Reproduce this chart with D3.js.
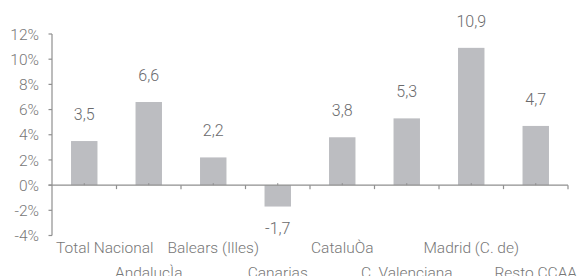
<!DOCTYPE html>
<html><head><meta charset="utf-8">
<script src="https://cdn.jsdelivr.net/npm/d3@7"></script>
<style>html,body{margin:0;padding:0;background:#fff;}svg{display:block;}</style>
</head><body>
<svg id="c" width="586" height="276"></svg>
<script>
const categories = ["Total Nacional","AndalucÌa","Balears (Illes)","Canarias","CataluÒa","C. Valenciana","Madrid (C. de)","Resto CCAA"];
const values = [3.5, 6.6, 2.2, -1.7, 3.8, 5.3, 10.9, 4.7];
const valueLabels = ["3,5","6,6","2,2","-1,7","3,8","5,3","10,9","4,7"];
const yTicks = [-4,-2,0,2,4,6,8,10,12];
const yTickLabels = ["-4%","-2%","0%","2%","4%","6%","8%","10%","12%"];

const svg = d3.select("#c");
const font = "Roboto, 'Liberation Sans', Arial, sans-serif";
const axisColor = "#8f8f8f";
const textColor = "#777777";
const barColor = "#bcbdc1";

const x = d3.scaleBand().domain(categories).range([52, 568]).paddingInner(0.59).paddingOuter(0.295);
const y = d3.scaleLinear().domain([-4, 12]).range([235.5, 34]);

// bars
svg.selectAll("rect.bar").data(values).join("rect")
  .attr("x", (d,i) => x(categories[i]))
  .attr("width", x.bandwidth())
  .attr("y", d => y(Math.max(0,d)))
  .attr("height", d => Math.abs(y(d) - y(0)))
  .attr("fill", barColor);

// y axis
const yAxis = svg.append("g");
yAxis.append("line").attr("x1",52).attr("x2",52).attr("y1",y(12)).attr("y2",y(-4))
  .attr("stroke",axisColor).attr("stroke-width",1.2);
yAxis.selectAll("line.t").data(yTicks).join("line").attr("class","t")
  .attr("x1",48.5).attr("x2",52).attr("y1",d=>y(d)).attr("y2",d=>y(d))
  .attr("stroke",axisColor).attr("stroke-width",1.2);
yAxis.selectAll("text").data(yTicks).join("text")
  .attr("x",39).attr("y",d=>y(d)).attr("dy","0.36em")
  .attr("text-anchor","end").attr("font-family",font).attr("font-weight",300).attr("font-size",15.5)
  .attr("fill",textColor).text((d,i)=>yTickLabels[i]);

// x axis at zero
const y0 = y(0);
svg.append("line").attr("x1",48.5).attr("x2",568).attr("y1",y0).attr("y2",y0)
  .attr("stroke",axisColor).attr("stroke-width",1.2);
const step = x.step();
const boundaries = d3.range(categories.length + 1).map(i => x.range()[0] + i*step);
svg.selectAll("line.bt").data(boundaries.slice(1)).join("line").attr("class","bt")
  .attr("x1",d=>d).attr("x2",d=>d).attr("y1",y0).attr("y2",y0+4)
  .attr("stroke",axisColor).attr("stroke-width",1.2);
svg.selectAll("line.ct").data(categories).join("line").attr("class","ct")
  .attr("x1",d=>x(d)+x.bandwidth()/2).attr("x2",d=>x(d)+x.bandwidth()/2)
  .attr("y1",y0-2).attr("y2",y0)
  .attr("stroke",axisColor).attr("stroke-width",1);

// category labels (staggered)
const cl = svg.selectAll("text.cat").data(categories).join("text").attr("class","cat")
  .attr("font-family",font).attr("font-weight",300).attr("font-size",15.5).attr("fill",textColor)
  .attr("text-anchor","middle")
  .attr("y",(d,i)=> i%2===0 ? 252.7 : 277.5)
  .text(d=>d);
cl.each(function(d){
  const w = this.getComputedTextLength();
  let cx = x(d) + x.bandwidth()/2;
  if (cx - w/2 < 56) cx = 56 + w/2;
  d3.select(this).attr("x", cx);
});

// value labels
svg.selectAll("text.val").data(values).join("text").attr("class","val")
  .attr("font-family",font).attr("font-weight",300).attr("font-size",16).attr("fill","#6a6a6c")
  .attr("text-anchor","middle")
  .attr("x",(d,i)=>x(categories[i]) + x.bandwidth()/2)
  .attr("y",d=> d>=0 ? y(d)-21 : y(d)+27)
  .text((d,i)=>valueLabels[i]);
</script>
</body></html>
